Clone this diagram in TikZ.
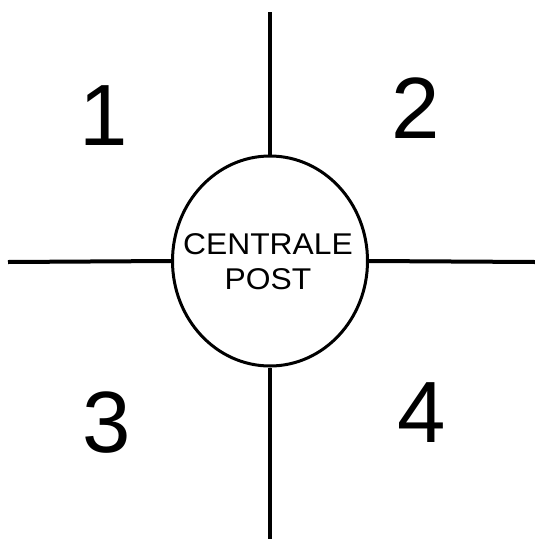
\documentclass[tikz,border=0pt]{standalone}
\usepackage{fontspec}
\setmainfont{Liberation Sans}
\usepackage{tikz}
\usetikzlibrary{
    positioning,
    calc,
    shapes.geometric
}
\tikzset{
    postnode/.style={
        draw,
        ellipse,
        line width=3pt,
        minimum width=195pt,
        minimum height=210pt,
        inner sep=0pt
    }
}
\tikzset{
    posttext/.style={
        align=center,
        inner sep=0pt,
        font=\fontsize{30}{35}\selectfont,
        xscale=1.06
    }
}
\tikzset{
    axisline/.style={
        draw=black,
        line width=4pt
    }
}
\tikzset{
    quadrant/.style={
        anchor=base,
        inner sep=0pt,
        font=\fontsize{87}{87}\selectfont
    }
}

\begin{document}
\begin{tikzpicture}[
    x=1pt,
    y=-1pt
]
\useasboundingbox (0,0) rectangle (535,539);

\node[postnode] (post) at (270,261) {};
\node[posttext] (posttxt) at (268,262)
    {CENTRALE\\POST};

\coordinate (top) at (270,12);
\coordinate (bottom) at (270,539);
\coordinate (left) at (8,262);
\coordinate (right) at (535,262);

\draw[axisline] (post.north) -- (top);
\draw[axisline] (post.south) -- (bottom);
\draw[axisline] (post.west) -- (left);
\draw[axisline] (post.east) -- (right);

\node[quadrant] (q1) at (104,145) {1};
\node[quadrant] (q2) at (416,138) {2};
\node[quadrant] (q3) at (107,452) {3};
\node[quadrant] (q4) at (422,442) {4};

\end{tikzpicture}
\end{document}
